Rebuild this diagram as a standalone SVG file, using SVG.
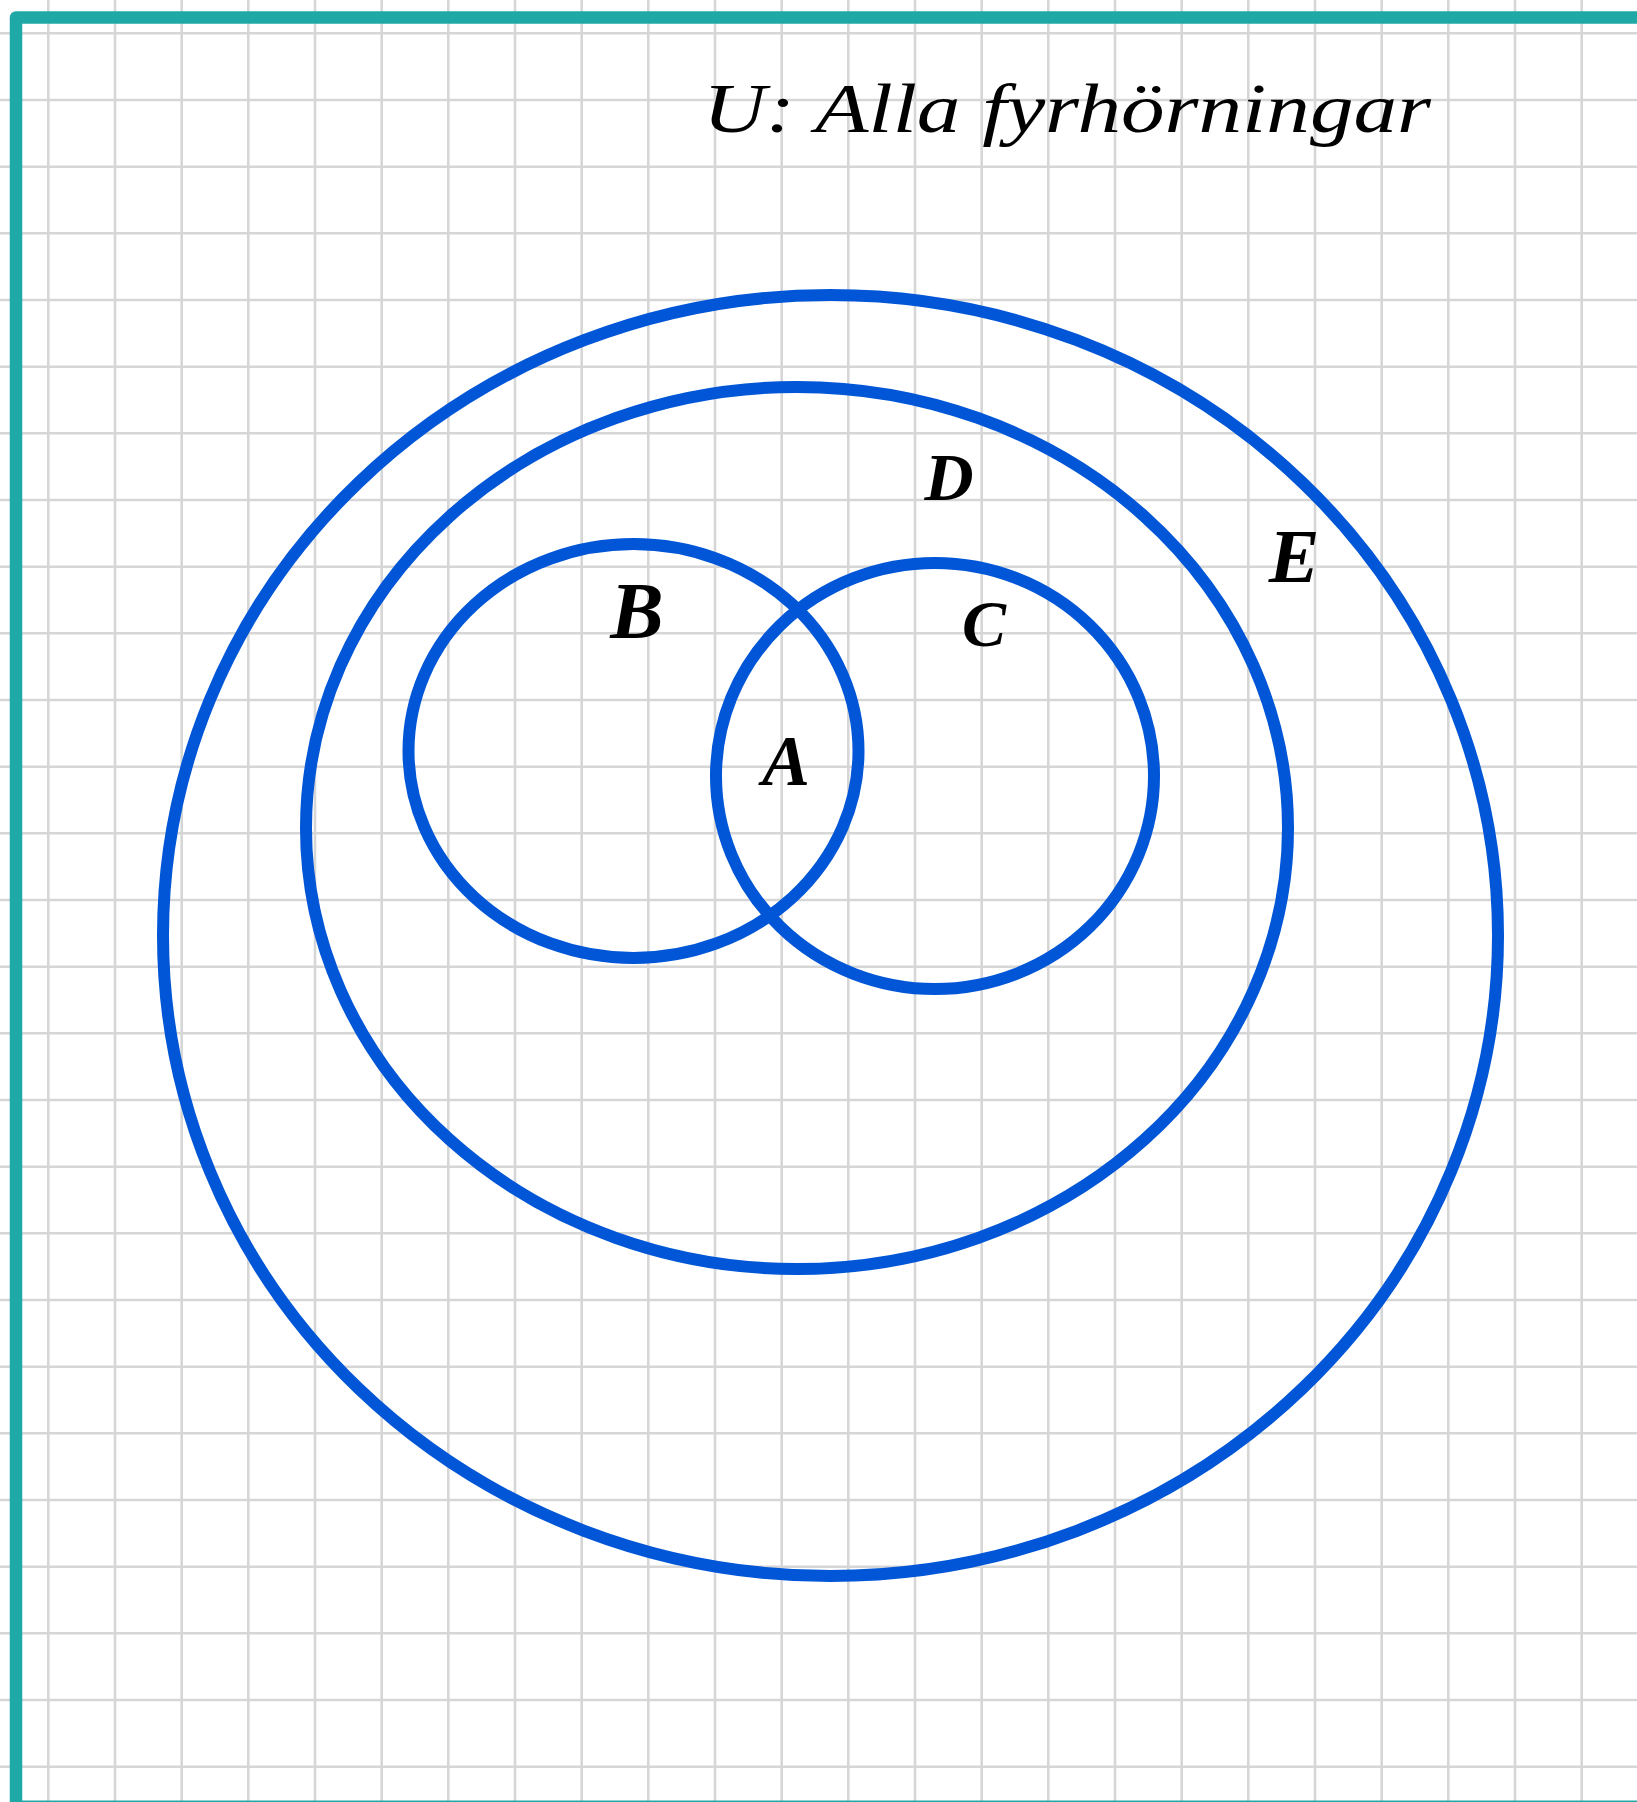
<svg xmlns="http://www.w3.org/2000/svg" width="1637" height="1802" viewBox="0 0 1637 1802">
<style>
.grid{stroke:#d6d6d6;stroke-width:2.6;fill:none}
.set{fill:none;stroke:#0056d6;stroke-width:12}
.lbl{font-family:"Liberation Serif","DejaVu Serif",serif;font-style:italic;font-weight:bold;fill:#000;text-anchor:middle}
</style>
<rect x="0" y="0" width="1637" height="1802" fill="#ffffff"/>
<g id="grid">
<path class="grid" d="M48.3,0V1802 M115,0V1802 M181.7,0V1802 M248.3,0V1802 M315,0V1802 M381.7,0V1802 M448.3,0V1802 M515,0V1802 M581.7,0V1802 M648.3,0V1802 M715,0V1802 M781.7,0V1802 M848.3,0V1802 M915,0V1802 M981.7,0V1802 M1048.3,0V1802 M1115,0V1802 M1181.7,0V1802 M1248.3,0V1802 M1315,0V1802 M1381.7,0V1802 M1448.3,0V1802 M1515,0V1802 M1581.7,0V1802"/>
<path class="grid" d="M0,33.3H1637 M0,100H1637 M0,166.7H1637 M0,233.3H1637 M0,300H1637 M0,366.7H1637 M0,433.3H1637 M0,500H1637 M0,566.7H1637 M0,633.3H1637 M0,700H1637 M0,766.7H1637 M0,833.3H1637 M0,900H1637 M0,966.7H1637 M0,1033.3H1637 M0,1100H1637 M0,1166.7H1637 M0,1233.3H1637 M0,1300H1637 M0,1366.7H1637 M0,1433.3H1637 M0,1500H1637 M0,1566.7H1637 M0,1633.3H1637 M0,1700H1637 M0,1766.7H1637"/>
</g>
<g id="frame">
<path d="M16,1802 V17.5 H1645" fill="none" stroke="#1fa9a6" stroke-width="12.5" stroke-linejoin="round"/>
<line x1="22" y1="1801.3" x2="1637" y2="1801.3" stroke="#1fa9a6" stroke-width="1.4"/>
</g>
<g id="title">
<text x="703" y="132" font-family="Liberation Serif, DejaVu Serif, serif" font-style="italic" font-size="70" fill="#000" textLength="728" lengthAdjust="spacingAndGlyphs">U: Alla fyrhörningar</text>
</g>
<g id="connectors"></g>
<g id="E">
<ellipse class="set" cx="830.5" cy="935.5" rx="667.5" ry="640.5"/>
<text class="lbl" x="1294" y="582" font-size="76">E</text>
</g>
<g id="D">
<ellipse class="set" cx="797" cy="828" rx="491" ry="441"/>
<text class="lbl" x="949" y="500" font-size="68">D</text>
</g>
<g id="B">
<ellipse class="set" cx="633.5" cy="751" rx="225" ry="207"/>
<text class="lbl" x="637" y="638" font-size="80">B</text>
</g>
<g id="C">
<ellipse class="set" cx="935" cy="776" rx="219" ry="213"/>
<text class="lbl" x="984" y="646" font-size="66">C</text>
</g>
<g id="A">
<text class="lbl" x="786" y="785" font-size="72">A</text>
</g>
</svg>
